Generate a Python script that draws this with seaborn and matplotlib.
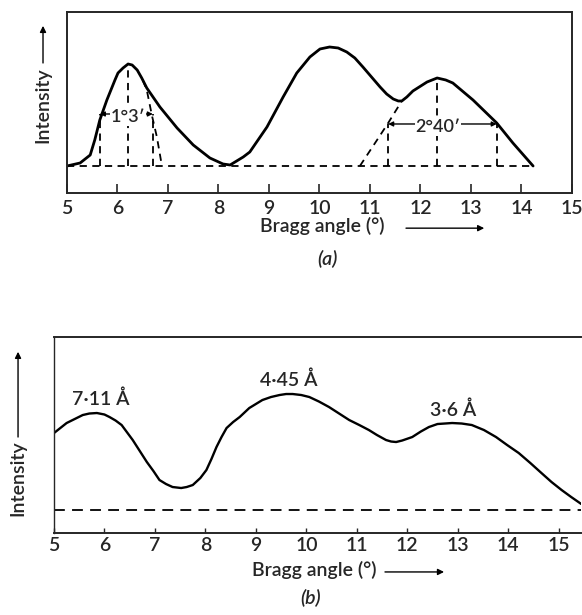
import numpy as np
import matplotlib
matplotlib.use("Agg")
import matplotlib.pyplot as plt
import seaborn as sns

# --- data (Bragg angle in degrees, intensity in arbitrary units, baseline = 0)
# panel (a): measured profile
angle_a = [5.0, 5.26, 5.46, 5.55, 5.65, 5.79, 5.95, 6.01, 6.11, 6.21, 6.29, 6.39, 6.48,
           6.58, 6.84, 7.18, 7.5, 7.83, 8.09, 8.23, 8.49, 8.62, 8.96, 9.28, 9.55, 9.81,
           10.01, 10.2, 10.37, 10.54, 10.7, 10.86, 11.2, 11.33, 11.46, 11.56, 11.63, 11.73,
           11.85, 12.13, 12.33, 12.5, 12.64, 13.04, 13.51, 13.83, 14.23]
inten_a = [0, 3, 11, 26, 46, 66, 86, 93, 98, 102, 101, 96, 88,
           78, 59, 38, 21, 8, 2, 1, 9, 14, 39, 69, 93, 109,
           117, 119, 118, 114, 108, 99, 79, 72, 67, 65, 65, 69,
           75, 84, 88, 86, 83, 66, 43, 23, 0]
# mirrored high-angle side of the first peak (dashed)
mirror_angle = [6.5, 6.58, 6.68, 6.78, 6.88]
mirror_inten = [86, 76, 51, 29, 0]
# extrapolated low-angle side of the third peak (dashed)
extrap_angle = [10.8, 11.14, 11.36, 11.63]
extrap_inten = [0, 26, 43, 65]
# half-width markers
peak1_pos, peak1_top = 6.21, 102
hw1_left, hw1_right, hw1_level = 5.65, 6.70, 52
peak3_pos, peak3_top = 12.33, 88
hw3_left, hw3_right, hw3_level = 11.36, 13.51, 42
hw1_text, hw3_text = "1°3′", "2°40′"

# panel (b)
angle_b = [5.0, 5.25, 5.57, 5.7, 5.85, 6.0, 6.1, 6.22, 6.34, 6.56, 6.7, 6.84, 6.97, 7.09,
           7.22, 7.35, 7.52, 7.63, 7.75, 7.9, 8.02, 8.12, 8.22, 8.32, 8.42, 8.55, 8.68,
           8.87, 9.0, 9.13, 9.3, 9.47, 9.6, 9.73, 9.9, 10.06, 10.25, 10.45, 10.65, 10.85,
           11.05, 11.24, 11.4, 11.58, 11.68, 11.78, 11.9, 12.1, 12.27, 12.43, 12.6, 12.89,
           13.08, 13.28, 13.52, 13.76, 13.98, 14.21, 14.44, 14.66, 14.86, 15.06, 15.25, 15.45]
inten_b = [77, 87, 95, 96.5, 97, 95.5, 93, 89.5, 85, 70, 59, 48, 39, 30,
           26, 23, 22, 23, 25, 32, 40, 51, 63, 73, 82, 88, 93,
           102, 106, 110, 113, 115, 116, 116, 115, 113, 108.5, 103, 96.5, 90,
           85, 80, 75, 70, 68.5, 68, 69.5, 73, 78.5, 83, 86, 87,
           86.5, 85, 80, 73, 65, 57, 47, 37, 28, 20, 13, 6]
peak_labels_b = ["7·11 Å", "4·45 Å", "3·6 Å"]
peak_label_x = [5.93, 9.66, 12.9]
peak_label_y = [111, 130, 100]

xticks = list(range(5, 16))

sns.set_style("ticks")
plt.rcParams["font.family"] = ["Lato", "DejaVu Sans"]
plt.rcParams["font.weight"] = "semibold"
plt.rcParams["axes.linewidth"] = 1.4

fig = plt.figure(figsize=(5.82, 6.15), dpi=100)
ax1 = fig.add_axes([0.1151, 0.6862, 0.8677, 0.2943])
ax2 = fig.add_axes([0.0928, 0.1333, 0.906, 0.3187])

dash = dict(color="black", lw=1.3, linestyle=(0, (4, 3)))
FS = 14

# ---- panel (a)
sns.lineplot(x=angle_a, y=inten_a, ax=ax1, color="black", lw=2, sort=False,
             solid_joinstyle="round")
ax1.hlines(0, angle_a[0], angle_a[-1], **dash)
ax1.plot(mirror_angle, mirror_inten, **dash)
ax1.plot(extrap_angle, extrap_inten, **dash)
ax1.vlines([hw1_left, hw1_right], 0, hw1_level, **dash)
ax1.vlines([hw3_left, hw3_right], 0, hw3_level, **dash)
ax1.vlines(peak1_pos, 0, peak1_top, **dash)
ax1.vlines(peak3_pos, 0, peak3_top, **dash)

arrow = dict(arrowstyle="<|-|>", color="black", lw=1.0, mutation_scale=7,
             shrinkA=0, shrinkB=0)
for left, right, lev, txt, cx in [(hw1_left, hw1_right, hw1_level, hw1_text, peak1_pos),
                                  (hw3_left, hw3_right, hw3_level, hw3_text, 12.35)]:
    ax1.annotate("", xy=(left, lev), xytext=(right, lev), arrowprops=arrow)
    ax1.text(cx, lev - 3, txt, ha="center", va="center", fontsize=13,
             bbox=dict(facecolor="white", edgecolor="none", pad=0.5))

ax1.set_xlim(5, 15)
ax1.set_ylim(-27, 154)
ax1.set_xticks(xticks)
ax1.set_yticks([])
ax1.tick_params(axis="x", direction="in", length=6.5, width=1.2, labelsize=FS, pad=5)
for s in ax1.spines.values():
    s.set_visible(True)
ax1.set_xlabel("")
ax1.set_ylabel("")

# ---- panel (b)
sns.lineplot(x=angle_b, y=inten_b, ax=ax2, color="black", lw=1.7, sort=False,
             solid_joinstyle="round")
ax2.hlines(0, 5, 15.45, color="black", lw=1.3, linestyle=(0, (6, 4)))
for lab, lx, ly in zip(peak_labels_b, peak_label_x, peak_label_y):
    ax2.text(lx, ly, lab, ha="center", va="center", fontsize=FS)
ax2.set_xlim(5, 15.45)
ax2.set_ylim(-23, 173)
ax2.set_xticks(xticks)
ax2.set_yticks([])
ax2.tick_params(axis="x", direction="in", length=3.5, width=1.0, labelsize=FS, pad=3)
ax2.spines["right"].set_visible(False)
ax2.spines["left"].set_linewidth(1.0)
ax2.set_xlabel("")
ax2.set_ylabel("")

# ---- axis titles with arrows (figure coords)
head = dict(arrowstyle="-|>", color="black", lw=1.0, mutation_scale=9, shrinkA=0, shrinkB=0)
ff = dict(xycoords="figure fraction", textcoords="figure fraction", arrowprops=head)

fig.text(0.0739, 0.829, "Intensity", rotation=90, ha="center", va="center", fontsize=FS)
ax1.annotate("", xy=(0.0739, 0.958), xytext=(0.0739, 0.8976), **ff)
fig.text(0.553, 0.6325, "Bragg angle (°)", ha="center", va="center", fontsize=FS)
ax1.annotate("", xy=(0.832, 0.629), xytext=(0.6976, 0.629), **ff)
fig.text(0.562, 0.580, "(a)", ha="center", va="center", fontsize=FS, style="italic")

fig.text(0.031, 0.2228, "Intensity", rotation=90, ha="center", va="center", fontsize=FS)
ax2.annotate("", xy=(0.031, 0.428), xytext=(0.031, 0.2894), **ff)
fig.text(0.5395, 0.073, "Bragg angle (°)", ha="center", va="center", fontsize=FS)
ax2.annotate("", xy=(0.763, 0.070), xytext=(0.6615, 0.070), **ff)
fig.text(0.533, 0.029, "(b)", ha="center", va="center", fontsize=FS, style="italic")

fig.savefig("out.png", dpi=100)
